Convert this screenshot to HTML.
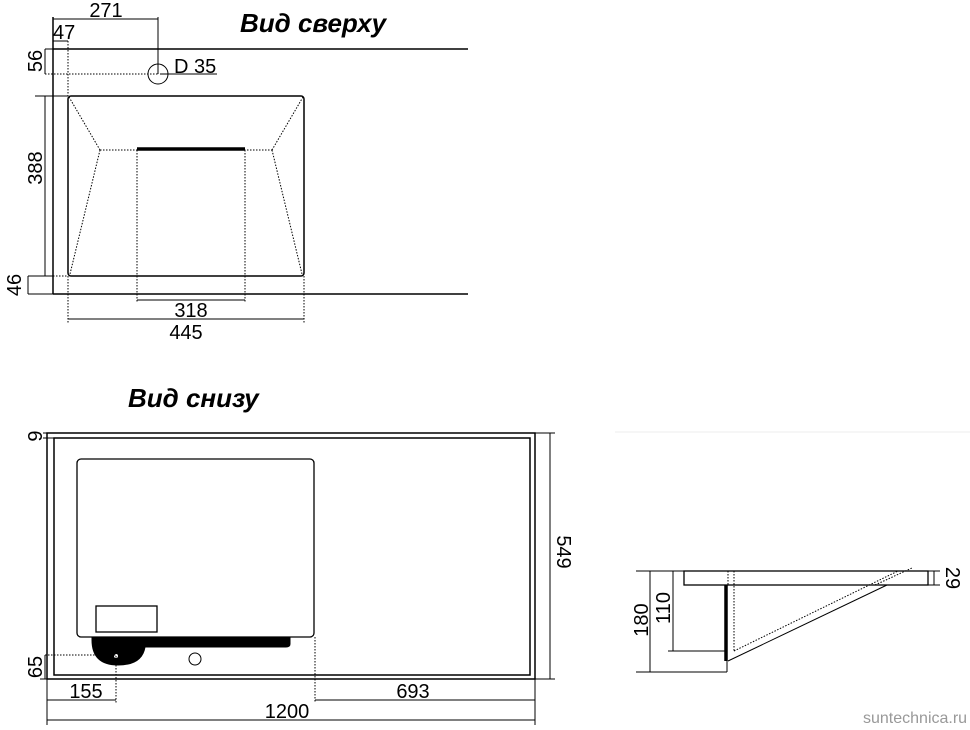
<!DOCTYPE html>
<html><head><meta charset="utf-8"><style>
html,body{margin:0;padding:0;background:#fff;}
svg{display:block;}
text{font-family:"Liberation Sans",sans-serif;fill:#000;}
</style></head><body>
<svg width="970" height="730" viewBox="0 0 970 730" xmlns="http://www.w3.org/2000/svg">
<g stroke="#000" fill="none" stroke-width="1">
<!-- TOP VIEW -->
<line x1="53" y1="49" x2="468" y2="49" stroke-width="1.5"/>
<line x1="53" y1="294" x2="468" y2="294" stroke-width="1.5"/>
<line x1="53" y1="17" x2="53" y2="294" stroke-width="1.5"/>
<rect x="68" y="96" width="236" height="180" rx="3" stroke-width="1.5"/>
<g stroke-dasharray="1.5,1.5">
<line x1="69" y1="97" x2="100" y2="150"/>
<line x1="303" y1="97" x2="272" y2="150"/>
<line x1="100" y1="150" x2="70" y2="274"/>
<line x1="272" y1="150" x2="302" y2="274"/>
<line x1="100" y1="150" x2="272" y2="150"/>
<line x1="137" y1="150" x2="137" y2="302"/>
<line x1="245" y1="150" x2="245" y2="302"/>
<line x1="68" y1="276" x2="68" y2="323"/>
<line x1="304" y1="276" x2="304" y2="323"/>
<line x1="45" y1="74" x2="158" y2="74"/>
<line x1="68" y1="41" x2="68" y2="96"/>
<line x1="53" y1="276" x2="68" y2="276"/>
</g>
<line x1="137" y1="149" x2="245" y2="149" stroke-width="3.5"/>
<line x1="137" y1="300" x2="245" y2="300"/>
<line x1="68" y1="319" x2="304" y2="319"/>
<line x1="45" y1="96" x2="45" y2="276"/>
<line x1="35" y1="96" x2="68" y2="96"/>
<line x1="28" y1="276" x2="53" y2="276"/>
<line x1="28" y1="276" x2="28" y2="294"/>
<line x1="28" y1="294" x2="53" y2="294"/>
<line x1="45" y1="49" x2="45" y2="74"/>
<line x1="45" y1="49" x2="53" y2="49"/>
<circle cx="158" cy="74" r="10"/>
<line x1="160" y1="74" x2="217" y2="74"/>
<line x1="53" y1="19" x2="158" y2="19"/>
<line x1="158" y1="17" x2="158" y2="74"/>
<line x1="53" y1="41" x2="68" y2="41"/>

<!-- BOTTOM VIEW -->
<rect x="47" y="433" width="488" height="246" stroke-width="1.5"/>
<rect x="54" y="438" width="476" height="237" stroke-width="1.5"/>
<rect x="77" y="459" width="237" height="178" rx="4" stroke-width="1.3"/>
<rect x="96" y="606" width="61" height="26" stroke-width="1.3"/>
<path d="M92 638 H290 V644 Q290 647 286 647 H145 Q142 665 118 665 Q92 665 92 640 Z" fill="#000"/>
<circle cx="116" cy="656" r="2" fill="#fff" stroke="none"/>
<circle cx="195" cy="659" r="6"/>
<g stroke-dasharray="1.5,1.5">
<line x1="45" y1="655" x2="116" y2="655"/>
<line x1="116" y1="656" x2="116" y2="703"/>
<line x1="315" y1="637" x2="315" y2="703"/>
</g>
<line x1="47" y1="433" x2="47" y2="725"/>
<line x1="43" y1="433" x2="47" y2="433"/>
<line x1="43" y1="438" x2="54" y2="438"/>
<line x1="45" y1="655" x2="45" y2="679"/>
<line x1="40" y1="679" x2="47" y2="679"/>
<line x1="47" y1="700" x2="116" y2="700"/>
<line x1="315" y1="700" x2="535" y2="700"/>
<line x1="47" y1="720" x2="535" y2="720"/>
<line x1="535" y1="679" x2="535" y2="725"/>
<line x1="535" y1="433" x2="555" y2="433"/>
<line x1="535" y1="679" x2="555" y2="679"/>
<line x1="550" y1="433" x2="550" y2="679"/>

<!-- SIDE VIEW -->
<line x1="615" y1="432" x2="970" y2="432" stroke="#eee"/>
<rect x="684" y="571" width="244" height="14" stroke-width="1.3"/>
<line x1="636" y1="571" x2="684" y2="571"/>
<line x1="650" y1="571" x2="650" y2="672"/>
<line x1="636" y1="672" x2="727" y2="672"/>
<line x1="673" y1="571" x2="673" y2="651"/>
<line x1="668" y1="651" x2="726" y2="651"/>
<line x1="726" y1="585" x2="726" y2="661" stroke-width="3.5"/>
<line x1="727" y1="661" x2="727" y2="672"/>
<line x1="728" y1="661" x2="887" y2="585"/>
<g stroke-dasharray="1.5,1.5">
<line x1="734" y1="571" x2="734" y2="651"/>
<line x1="728" y1="571" x2="728" y2="585"/>
<line x1="734" y1="651" x2="898" y2="571"/>
<line x1="875" y1="585" x2="912" y2="568"/>
</g>
<line x1="934" y1="571" x2="934" y2="585"/>
<line x1="928" y1="571" x2="940" y2="571"/>
<line x1="928" y1="585" x2="940" y2="585"/>
</g>

<g font-size="20">
<text x="106" y="17" text-anchor="middle">271</text>
<text x="53" y="39">47</text>
<text x="174" y="73">D 35</text>
<text x="191" y="317" text-anchor="middle">318</text>
<text x="186" y="339" text-anchor="middle">445</text>
<text transform="translate(42,61) rotate(-90)" text-anchor="middle">56</text>
<text transform="translate(42,168) rotate(-90)" text-anchor="middle">388</text>
<text transform="translate(21,285) rotate(-90)" text-anchor="middle">46</text>
<text transform="translate(42,436) rotate(-90)" text-anchor="middle">9</text>
<text transform="translate(42,667) rotate(-90)" text-anchor="middle">65</text>
<text x="86" y="698" text-anchor="middle">155</text>
<text x="413" y="698" text-anchor="middle">693</text>
<text x="287" y="718" text-anchor="middle">1200</text>
<text transform="translate(557,552) rotate(90)" text-anchor="middle">549</text>
<text transform="translate(648,620) rotate(-90)" text-anchor="middle">180</text>
<text transform="translate(670,608) rotate(-90)" text-anchor="middle">110</text>
<text transform="translate(946,578) rotate(90)" text-anchor="middle">29</text>
</g>
<text x="240" y="32" font-size="26" font-weight="bold" font-style="italic">Вид сверху</text>
<text x="128" y="407" font-size="26" font-weight="bold" font-style="italic">Вид снизу</text>
<text x="863" y="723" font-size="16" style="fill:#999">suntechnica.ru</text>
</svg>
</body></html>
